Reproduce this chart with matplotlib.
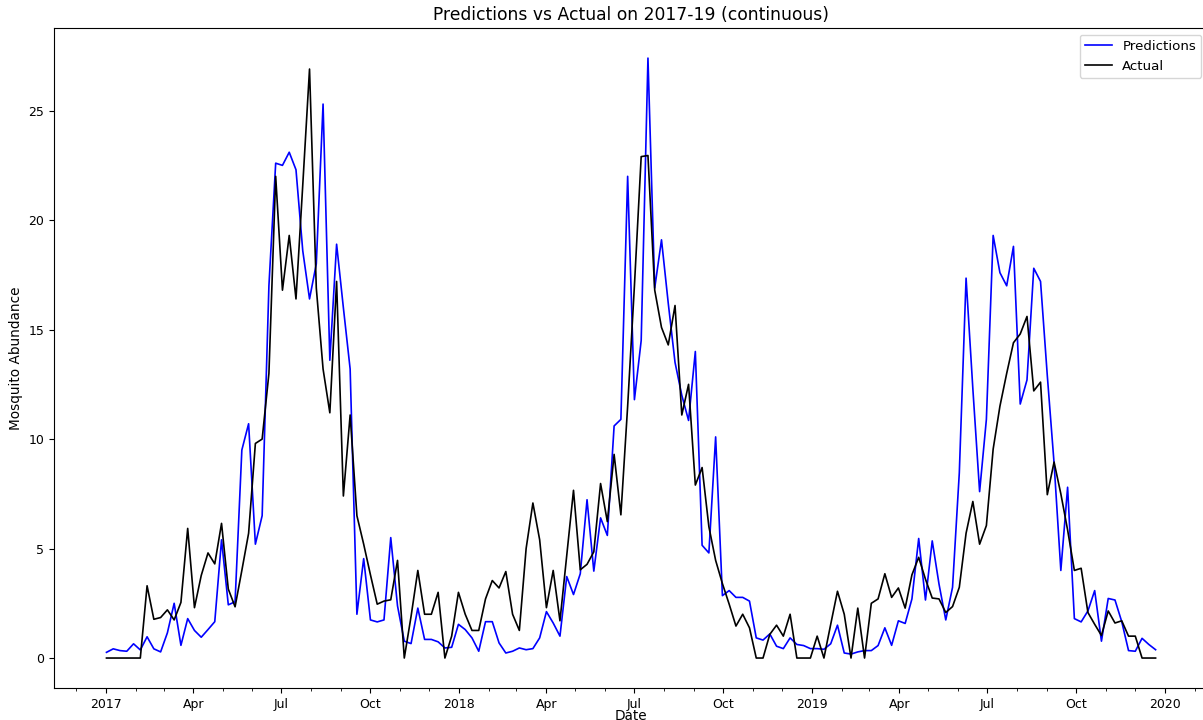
import numpy as np
import pandas as pd
import matplotlib
matplotlib.use("Agg")
import matplotlib.pyplot as plt
import matplotlib.dates as mdates
from matplotlib.ticker import FuncFormatter

# weekly values from the first week of 2017 to the end of 2019
start_date = "2017-01-01"

predictions = [
    0.26, 0.42, 0.34, 0.31, 0.65, 0.37, 0.97, 0.42, 0.28, 1.15,
    2.5, 0.58, 1.8, 1.26, 0.95, 1.3, 1.66, 5.4, 2.43, 2.57,
    9.5, 10.7, 5.2, 6.5, 17.0, 22.6, 22.5, 23.1, 22.3, 18.6,
    16.4, 18.0, 25.3, 13.6, 18.9, 16.0, 13.2, 2.0, 4.54, 1.74,
    1.65, 1.74, 5.5, 2.38, 0.77, 0.66, 2.28, 0.85, 0.85, 0.74,
    0.46, 0.49, 1.54, 1.3, 0.92, 0.31, 1.66, 1.66, 0.69, 0.23,
    0.31, 0.46, 0.38, 0.43, 0.92, 2.12, 1.6, 1.0, 3.72, 2.9,
    3.85, 7.23, 3.97, 6.4, 5.6, 10.6, 10.9, 22.0, 11.8, 14.5,
    27.4, 16.9, 19.1, 16.2, 13.5, 12.0, 10.85, 14.0, 5.15, 4.8,
    10.1, 2.85, 3.08, 2.77, 2.77, 2.6, 0.92, 0.82, 1.1, 0.54,
    0.43, 0.92, 0.62, 0.57, 0.43, 0.43, 0.4, 0.65, 1.5, 0.23,
    0.18, 0.28, 0.34, 0.34, 0.57, 1.38, 0.58, 1.7, 1.58, 2.7,
    5.46, 2.65, 5.35, 3.38, 1.74, 3.23, 8.46, 17.35, 12.3, 7.6,
    10.9, 19.3, 17.6, 17.0, 18.8, 11.6, 12.7, 17.8, 17.2, 12.9,
    8.9, 4.0, 7.8, 1.8, 1.65, 2.15, 3.08, 0.77, 2.72, 2.65,
    1.66, 0.34, 0.31, 0.9, 0.62, 0.38,
]

actual = [
    0, 0, 0, 0, 0, 0, 3.3, 1.77, 1.85, 2.2,
    1.74, 2.54, 5.92, 2.3, 3.77, 4.8, 4.3, 6.15, 3.15, 2.34,
    4.0, 5.7, 9.8, 10.0, 13.0, 22.0, 16.8, 19.3, 16.4, 21.6,
    26.9, 16.9, 13.2, 11.2, 17.2, 7.4, 11.1, 6.5, 5.2, 3.8,
    2.46, 2.6, 2.66, 4.46, 0, 1.9, 4.0, 2.0, 2.0, 3.0,
    0, 1.0, 3.0, 2.0, 1.26, 1.26, 2.7, 3.54, 3.2, 3.95,
    2.0, 1.26, 5.0, 7.08, 5.4, 2.3, 4.0, 1.7, 4.7, 7.66,
    4.03, 4.28, 4.85, 7.97, 6.23, 9.3, 6.54, 11.5, 17.0, 22.9,
    22.95, 16.8, 15.1, 14.3, 16.1, 11.1, 12.5, 7.9, 8.7, 6.0,
    4.46, 3.4, 2.46, 1.46, 2.0, 1.38, 0, 0, 1.08, 1.5,
    1.0, 2.0, 0, 0, 0, 1.0, 0, 1.54, 3.05, 2.0,
    0, 2.28, 0, 2.5, 2.7, 3.85, 2.77, 3.2, 2.28, 3.8,
    4.6, 3.6, 2.74, 2.7, 2.08, 2.35, 3.23, 5.7, 7.15, 5.2,
    6.05, 9.54, 11.5, 13.0, 14.4, 14.8, 15.6, 12.2, 12.6, 7.46,
    8.95, 7.5, 5.85, 4.0, 4.1, 2.08, 1.54, 1.03, 2.15, 1.6,
    1.7, 1.0, 1.0, 0, 0, 0,
]

dates = pd.date_range(start_date, periods=len(actual), freq="7D")

fig = plt.figure(figsize=(12.03, 7.2), dpi=100)
# right edge of the axes runs slightly past the figure, as in the original crop
ax = fig.add_axes([0.0449, 0.0444, 0.9593, 0.9166])

ax.plot(dates, predictions, color="blue", lw=1.2, label="Predictions")
ax.plot(dates, actual, color="black", lw=1.2, label="Actual")

ax.xaxis.set_major_locator(mdates.MonthLocator(bymonth=[1, 4, 7, 10]))
ax.xaxis.set_minor_locator(mdates.MonthLocator())


def fmt_date(x, pos=None):
    d = mdates.num2date(x)
    return str(d.year) if d.month == 1 else d.strftime("%b")


ax.xaxis.set_major_formatter(FuncFormatter(fmt_date))
ax.tick_params(axis="both", which="major", labelsize=9)

ax.set_title("Predictions vs Actual on 2017-19 (continuous)", fontsize=12.3)
ax.set_xlabel("Date", fontsize=9.8, labelpad=-1)
ax.set_ylabel("Mosquito Abundance", fontsize=9.8)
ax.legend(loc="upper right", fontsize=9.6)

fig.savefig("out.png", dpi=100)
